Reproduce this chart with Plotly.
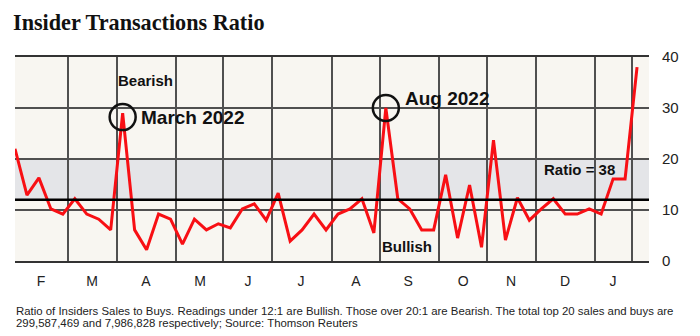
import plotly.graph_objects as go

# Weekly insider sales/buys ratio
weeks = list(range(53))
ratio = [22.0, 12.9, 16.3, 10.2, 9.2, 12.2, 9.2, 8.2, 6.1, 29.0,
         6.1, 2.2, 9.2, 8.2, 3.3, 8.2, 6.1, 7.3, 6.5, 10.2,
         11.2, 8.0, 13.3, 3.9, 6.1, 9.2, 6.1, 9.2, 10.2, 12.2,
         5.5, 30.0, 12.2, 10.2, 6.1, 6.1, 16.9, 4.5, 14.9, 2.7,
         23.7, 4.1, 12.4, 8.0, 10.2, 12.2, 9.2, 9.2, 10.2, 9.2,
         16.1, 16.1, 38.0]

month_labels = ["F", "M", "A", "M", "J", "J", "A", "S", "O", "N", "D", "J"]
month_centers = [2.17, 6.44, 10.95, 15.47, 19.48, 23.91, 28.51, 32.86, 37.46, 41.47, 45.99, 49.99]
month_bounds = [4.43, 8.53, 13.46, 17.4, 21.5, 26.5, 30.5, 35.45, 39.45, 43.55, 48.5, 51.6]

y_ticks = [0, 10, 20, 30, 40]
bullish_level = 12
bearish_level = 20
march_peak = 9
aug_peak = 31

GRID = "#505050"
SANS = "Liberation Sans, Arial, sans-serif"

fig = go.Figure()
fig.add_trace(go.Scatter(
    x=weeks, y=ratio, mode="lines",
    line=dict(color="#f80f14", width=3),
    hoverinfo="skip", showlegend=False,
))

fig.update_layout(
    width=700, height=336,
    margin=dict(l=15, r=51, t=57, b=75),
    paper_bgcolor="white",
    plot_bgcolor="#f8f6f1",
    showlegend=False,
    title=dict(
        text="<b>Insider Transactions Ratio</b>",
        font=dict(family="Liberation Serif, Times New Roman, serif", size=22.2, color="#111"),
        x=13 / 700, xanchor="left", xref="container",
        y=1 - 22 / 336, yanchor="middle", yref="container",
    ),
    xaxis=dict(
        range=[0, 53],
        tickmode="array", tickvals=month_centers, ticktext=month_labels,
        showgrid=False, zeroline=False, ticks="",
        ticklabelstandoff=6,
        tickfont=dict(family=SANS, size=14, color="#222"),
        showline=True, linecolor="#333", linewidth=2, mirror=True,
        minor=dict(tickmode="array", tickvals=month_bounds, showgrid=True,
                   gridcolor=GRID, gridwidth=1.6, ticks=""),
    ),
    yaxis=dict(
        range=[0, 40], side="right",
        tickmode="array", tickvals=y_ticks,
        showgrid=True, gridcolor=GRID, gridwidth=1.6, zeroline=False,
        ticks="", ticklabelstandoff=12,
        tickfont=dict(family=SANS, size=15, color="#222"),
    ),
)

# Neutral band and bullish threshold
fig.add_shape(type="rect", xref="paper", yref="y", x0=0, x1=1,
              y0=bullish_level, y1=bearish_level,
              fillcolor="#e4e5e8", line=dict(width=0), layer="below")
fig.add_shape(type="line", xref="paper", yref="y", x0=0, x1=1,
              y0=bullish_level, y1=bullish_level,
              line=dict(color="black", width=2.5), layer="above")

# Circles around the peaks
fig.add_shape(type="circle", xref="x", yref="y",
              xsizemode="pixel", ysizemode="pixel",
              xanchor=march_peak, yanchor=ratio[march_peak],
              x0=-13, x1=13, y0=-17, y1=9,
              line=dict(color="#111", width=2.5))
fig.add_shape(type="circle", xref="x", yref="y",
              xsizemode="pixel", ysizemode="pixel",
              xanchor=aug_peak, yanchor=ratio[aug_peak],
              x0=-13, x1=13, y0=-13, y1=13,
              line=dict(color="#111", width=2.5))

def note(text, x, y, size, xanchor="center"):
    fig.add_annotation(text=text, x=x, y=y, xref="x", yref="y",
                       xanchor=xanchor, yanchor="middle", showarrow=False,
                       font=dict(family=SANS, size=size, color="#111"))

note("<b>Bearish</b>", 10.95, 35.3, 15)
note("<b>March 2022</b>", 10.4, 28.2, 19, "left")
note("<b>Aug 2022</b>", 32.4, 31.8, 19, "left")
note("<b>Ratio = 38</b>", 47.2, 18.0, 15)
note("<b>Bullish</b>", 32.8, 2.9, 15)

footer1 = ("Ratio of Insiders Sales to Buys. Readings under 12:1 are Bullish. "
           "Those over 20:1 are Bearish. The total top 20 sales and buys are")
footer2 = "299,587,469 and 7,986,828 respectively; Source: Thomson Reuters"
for txt, ypx in [(footer1, 311), (footer2, 322.5)]:
    fig.add_annotation(text=txt, xref="paper", yref="paper",
                       x=(14 - 15) / 634, y=(261 - ypx) / 204,
                       xanchor="left", yanchor="middle", showarrow=False,
                       font=dict(family=SANS, size=11.4, color="#222"))

fig.write_html("out.html")
